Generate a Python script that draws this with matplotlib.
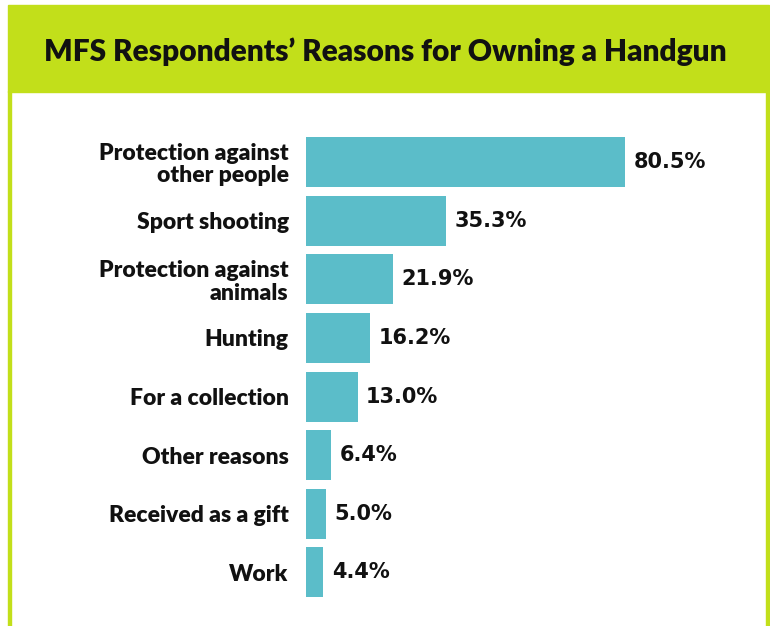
import matplotlib
matplotlib.use("Agg")
import matplotlib.pyplot as plt
from matplotlib.patches import Rectangle

# Razones para tener un arma de mano (encuestados MFS), en porcentaje
razones = ["Protection against\nother people", "Sport shooting",
           "Protection against\nanimals", "Hunting", "For a collection",
           "Other reasons", "Received as a gift", "Work"]
porcentajes = [80.5, 35.3, 21.9, 16.2, 13.0, 6.4, 5.0, 4.4]
titulo = "MFS Respondents\u2019 Reasons for Owning a Handgun"

verde = "#c2df1a"
azul = "#5bbdc9"
W, H = 770, 626

plt.rcParams["font.family"] = ["Lato", "DejaVu Sans"]

fig = plt.figure(figsize=(W / 100, H / 100), dpi=100)
fig.patch.set_facecolor("white")

# Marco verde: cabecera y bordes laterales
fig.patches.append(Rectangle((8 / W, (H - 91.5) / H), 761 / W, 86.5 / H,
                             transform=fig.transFigure, color=verde, zorder=0))
fig.patches.append(Rectangle((8 / W, 0), 3 / W, (H - 91) / H,
                             transform=fig.transFigure, color=verde, zorder=0))
fig.patches.append(Rectangle((766 / W, 0), 3 / W, (H - 91) / H,
                             transform=fig.transFigure, color=verde, zorder=0))

fig.text(385 / W, (H - 61.5) / H, titulo, ha="center", va="baseline",
         fontsize=21.5, fontweight="heavy", color="#111111")

# Ejes en pixeles: barras desde x=306, 3.965 px por punto porcentual
paso = 58.64
y_top = 162 - paso / 2
y_bot = 162 + paso * 7 + paso / 2
ax = fig.add_axes([306 / W, (H - y_bot) / H, 396.5 / W, (y_bot - y_top) / H])
ax.set_xlim(0, 100)
ax.set_ylim(7.5, -0.5)

pos = list(range(len(razones)))
ax.barh(pos, porcentajes, height=50 / paso, color=azul)
for i, v in zip(pos, porcentajes):
    ax.annotate(f"{v:.1f}%", (v, i), xytext=(6, 0), textcoords="offset points",
                ha="left", va="center", fontsize=15, fontweight="bold",
                family="DejaVu Sans", color="#111111")

ax.set_yticks(pos)
ax.set_yticklabels(razones, fontsize=16.5, fontweight="heavy", color="#111111",
                   linespacing=1.08)
ax.tick_params(axis="y", length=0, pad=12.5)
ax.set_xticks([])
for s in ax.spines.values():
    s.set_visible(False)
ax.patch.set_alpha(0)

fig.savefig("out.png", dpi=100)
